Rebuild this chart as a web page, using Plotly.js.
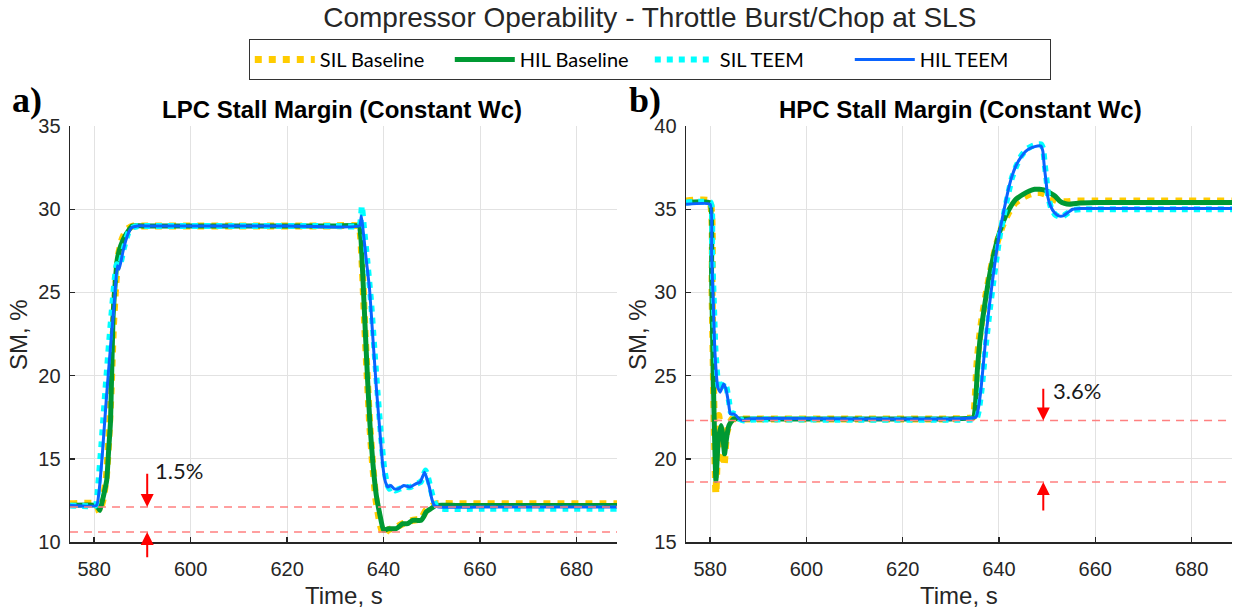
<!DOCTYPE html>
<html>
<head>
<meta charset="utf-8">
<script src="https://cdn.plot.ly/plotly-3.0.1.min.js"></script>
<style>html,body{margin:0;padding:0;background:#fff}#chart{width:1233px;height:609px}</style>
</head>
<body>
<div id="chart"></div>
<script>
// ---------- LPC (panel a) ----------
const lpcSilBaseT = [575, 580.5, 581.1, 581.8, 582.5, 583.0, 583.5, 584.0, 584.5, 585.0, 585.8, 586.8, 588.2, 590, 610, 630, 634.8, 635.2, 635.6, 636.1, 636.6, 637.1, 637.7, 638.4, 639.2, 640.0, 640.8, 642.6, 644.0, 646.0, 647.8, 648.8, 649.8, 650.8, 655, 670, 688.5];
const lpcSilBaseY = [12.3, 12.3, 11.8, 12.5, 13.8, 16.0, 19.0, 23.0, 25.5, 27.2, 28.2, 28.8, 29.0, 29.0, 29.0, 29.0, 29.0, 28.5, 26.5, 23.0, 20.0, 17.2, 14.8, 12.6, 11.2, 10.4, 10.7, 10.9, 11.1, 11.3, 11.4, 11.9, 12.1, 12.3, 12.3, 12.3, 12.3];

const lpcHilBaseT = [575, 580.5, 581.2, 581.8, 582.6, 583.0, 583.4, 583.9, 584.4, 584.8, 585.5, 586.4, 587.9, 590, 610, 630, 634.9, 635.3, 635.7, 636.2, 636.7, 637.2, 637.8, 638.5, 639.2, 640.0, 641.0, 642.6, 644.0, 645.0, 646.0, 647.0, 647.8, 648.3, 648.8, 649.8, 650.9, 655, 670, 688.5];
const lpcHilBaseY = [12.2, 12.2, 11.9, 12.6, 13.7, 15.5, 17.3, 23.4, 25.7, 27.0, 27.8, 28.4, 29.0, 29.0, 29.0, 29.0, 29.0, 28.3, 26.0, 22.8, 19.7, 17.0, 14.7, 12.8, 11.7, 10.7, 10.8, 10.8, 11.1, 11.1, 11.3, 11.3, 11.3, 11.5, 11.8, 12.0, 12.2, 12.2, 12.2, 12.2];

const lpcSilTeemT = [575, 580.3, 580.8, 581.5, 582.3, 583.1, 584.0, 584.7, 585.3, 586.1, 587.1, 588.0, 589.3, 590.5, 610, 630, 635.0, 635.5, 635.9, 636.6, 637.4, 638.1, 638.8, 639.5, 640.1, 640.7, 641.2, 641.8, 642.5, 643.3, 644.4, 645.6, 646.8, 647.7, 648.7, 649.2, 649.7, 650.3, 650.9, 652, 660, 688.5];
const lpcSilTeemY = [12.2, 12.2, 13.3, 15.8, 19.0, 22.0, 25.0, 26.7, 26.6, 27.6, 28.6, 28.9, 29.0, 29.0, 29.0, 29.0, 29.0, 30.2, 29.0, 27.0, 24.5, 21.6, 18.8, 16.3, 14.5, 13.5, 13.2, 13.3, 13.1, 13.2, 13.3, 13.3, 13.5, 13.6, 14.3, 13.9, 13.3, 12.6, 12.2, 12.0, 12.0, 12.0];

const lpcHilTeemT = [575, 580.5, 581.0, 581.7, 582.5, 583.3, 584.2, 584.8, 585.2, 586.0, 587.0, 587.8, 589.0, 590.5, 600, 620, 635.0, 635.4, 635.7, 636.4, 637.1, 637.8, 638.5, 639.2, 639.8, 640.4, 640.9, 641.5, 642.2, 643.1, 644.2, 645.5, 646.7, 647.6, 648.5, 649.0, 649.5, 650.0, 650.5, 651.5, 660, 688.5];
const lpcHilTeemY = [12.2, 12.2, 13.0, 15.3, 18.5, 21.4, 24.5, 26.6, 26.4, 27.5, 28.5, 28.9, 29.0, 29.0, 29.0, 29.0, 29.0, 29.6, 28.9, 27.0, 25.2, 22.2, 19.3, 16.8, 14.7, 13.6, 13.3, 13.4, 13.2, 13.2, 13.4, 13.3, 13.5, 13.6, 14.2, 13.8, 13.3, 12.6, 12.2, 12.1, 12.1, 12.1];

// ---------- HPC (panel b) ----------
const hpcSilBaseT = [575, 579.9, 580.4, 580.8, 581.2, 581.8, 582.3, 582.9, 583.4, 584.0, 584.6, 586, 610, 630, 634.6, 635.0, 635.4, 635.9, 636.5, 637.5, 638.6, 639.6, 640.7, 642.0, 643.4, 644.9, 646.3, 647.5, 648.5, 649.6, 650.6, 651.7, 652.7, 654, 656, 660, 688.5];
const hpcSilBaseY = [35.5, 35.5, 30.0, 23.0, 17.9, 22.6, 21.0, 19.6, 21.5, 22.1, 22.4, 22.4, 22.4, 22.4, 22.5, 23.4, 25.6, 27.2, 28.5, 30.2, 31.8, 33.0, 34.0, 34.8, 35.4, 35.7, 35.9, 36.0, 36.0, 35.9, 35.75, 35.55, 35.45, 35.45, 35.5, 35.5, 35.5];

const hpcHilBaseT = [575, 579.9, 580.3, 580.7, 581.2, 581.7, 582.3, 582.6, 583.0, 583.4, 583.8, 584.3, 584.9, 586, 610, 630, 634.7, 635.1, 635.5, 636.0, 636.6, 637.6, 638.7, 639.7, 640.8, 642.1, 643.5, 645.0, 646.3, 647.4, 648.4, 649.5, 650.5, 651.6, 652.6, 653.6, 654.6, 656, 660, 688.5];
const hpcHilBaseY = [35.4, 35.4, 31.2, 24.3, 18.7, 21.1, 22.0, 21.5, 20.3, 21.2, 21.9, 22.2, 22.4, 22.4, 22.4, 22.4, 22.5, 23.2, 25.3, 27.0, 28.4, 30.3, 32.0, 33.2, 34.2, 35.0, 35.6, 35.9, 36.1, 36.2, 36.2, 36.15, 36.0, 35.8, 35.5, 35.35, 35.3, 35.35, 35.4, 35.4];

const hpcSilTeemT = [575, 580.1, 580.4, 580.8, 581.1, 581.7, 582.2, 582.9, 583.4, 583.9, 584.3, 585.0, 585.5, 586.1, 587, 588, 610, 630, 635.3, 635.8, 636.4, 637.4, 638.1, 638.8, 639.5, 640.2, 641.1, 641.9, 642.7, 643.6, 644.6, 645.7, 646.9, 648.1, 648.8, 649.2, 649.5, 649.9, 650.2, 650.8, 651.6, 652.5, 653.4, 654.4, 655.4, 657, 660, 688.5];
const hpcSilTeemY = [35.4, 35.4, 32.6, 29.2, 26.6, 24.4, 24.1, 24.6, 24.3, 23.5, 22.8, 22.7, 22.6, 22.4, 22.3, 22.35, 22.35, 22.35, 22.4, 22.9, 24.2, 27.2, 29.0, 30.6, 32.1, 33.5, 34.8, 35.9, 36.9, 37.6, 38.2, 38.6, 38.8, 38.9, 38.9, 38.6, 37.7, 36.7, 35.8, 35.1, 34.7, 34.55, 34.6, 34.8, 34.95, 35.0, 35.0, 35.0];

const hpcHilTeemT = [575, 580.0, 580.3, 580.7, 581.0, 581.6, 582.1, 582.8, 583.3, 583.8, 584.2, 584.9, 585.4, 586.0, 586.9, 588, 610, 630, 635.2, 635.7, 636.3, 637.3, 638.0, 638.7, 639.4, 640.1, 641.0, 641.8, 642.6, 643.5, 644.5, 645.6, 646.8, 648.0, 648.7, 649.1, 649.4, 649.8, 650.1, 650.7, 651.5, 652.4, 653.3, 654.3, 655.3, 657, 660, 688.5];
const hpcHilTeemY = [35.3, 35.3, 32.4, 29.0, 26.4, 24.3, 24.0, 24.5, 24.2, 23.4, 22.7, 22.7, 22.6, 22.4, 22.3, 22.4, 22.4, 22.4, 22.5, 23.0, 24.3, 27.4, 29.2, 30.8, 32.3, 33.6, 34.9, 36.0, 36.9, 37.6, 38.1, 38.5, 38.7, 38.8, 38.8, 38.5, 37.6, 36.6, 35.8, 35.2, 34.8, 34.6, 34.6, 34.8, 35.0, 35.05, 35.05, 35.05];

// stall-margin reference levels and annotations
const lpcLimits = [12.1, 10.6];
const hpcLimits = [22.3, 18.6];
const lpcDeltaLabel = '1.5%';
const hpcDeltaLabel = '3.6%';
const lpcArrowT = 591;
const hpcArrowT = 649.2;

const seriesNames = ['SIL Baseline', 'HIL Baseline', 'SIL TEEM', 'HIL TEEM'];
const xTicks = [580, 600, 620, 640, 660, 680];
const lpcYTicks = [10, 15, 20, 25, 30, 35];
const hpcYTicks = [15, 20, 25, 30, 35, 40];

const styles = [
  {color: '#FFCC00', width: 7, dash: 'dot'},
  {color: '#009933', width: 5, dash: 'solid'},
  {color: '#00FFFF', width: 6, dash: 'dot'},
  {color: '#0A64FF', width: 3, dash: 'solid'}
];

const lpcData = [[lpcSilBaseT, lpcSilBaseY], [lpcHilBaseT, lpcHilBaseY], [lpcSilTeemT, lpcSilTeemY], [lpcHilTeemT, lpcHilTeemY]];
const hpcData = [[hpcSilBaseT, hpcSilBaseY], [hpcHilBaseT, hpcHilBaseY], [hpcSilTeemT, hpcSilTeemY], [hpcHilTeemT, hpcHilTeemY]];

const traces = [];
lpcData.forEach((d, i) => traces.push({
  x: d[0], y: d[1], type: 'scatter', mode: 'lines', name: seriesNames[i],
  line: Object.assign({shape: 'spline', smoothing: 0.4}, styles[i]), xaxis: 'x', yaxis: 'y', showlegend: true, legendgroup: 'g' + i
}));
hpcData.forEach((d, i) => traces.push({
  x: d[0], y: d[1], type: 'scatter', mode: 'lines', name: seriesNames[i],
  line: Object.assign({shape: 'spline', smoothing: 0.4}, styles[i]), xaxis: 'x2', yaxis: 'y2', showlegend: false, legendgroup: 'g' + i
}));

const axisFont = {family: 'Liberation Sans, Arial, sans-serif', size: 20, color: '#262626'};
function xAxis(domain, anchor) {
  return {domain: domain, anchor: anchor, range: [575, 688.4], tickvals: xTicks, ticktext: xTicks.map(String),
    ticks: 'inside', ticklen: 5, tickwidth: 1.5, tickcolor: '#262626', showline: true, linecolor: '#262626', linewidth: 1.5,
    showgrid: true, gridcolor: '#e2e2e2', gridwidth: 1, zeroline: false, tickfont: axisFont, ticklabelstandoff: 8, automargin: false, mirror: false};
}
function yAxis(range, ticks, anchor) {
  return {domain: [0.110, 0.793], anchor: anchor, range: range, tickvals: ticks, ticktext: ticks.map(String),
    ticks: 'inside', ticklen: 5, tickwidth: 1.5, tickcolor: '#262626', showline: true, linecolor: '#262626', linewidth: 1.5,
    showgrid: true, gridcolor: '#e2e2e2', gridwidth: 1, zeroline: false, tickfont: axisFont, ticklabelstandoff: 4, automargin: false, mirror: false};
}

const shapes = [];
lpcLimits.forEach(v => shapes.push({type: 'line', xref: 'x domain', yref: 'y', x0: 0, x1: 1, y0: v, y1: v, line: {color: '#FF8080', width: 1.5, dash: '8px,6px'}, layer: 'above'}));
hpcLimits.forEach(v => shapes.push({type: 'line', xref: 'x2 domain', yref: 'y2', x0: 0, x1: 1, y0: v, y1: v, line: {color: '#FF8080', width: 1.5, dash: '8px,6px'}, layer: 'above'}));

const txtFont = {family: 'Liberation Sans, Arial, sans-serif', size: 24, color: '#262626'};
const boldFont = {family: 'Liberation Sans, Arial, sans-serif', size: 24, color: '#000000', weight: 'bold'};
const labFont = {family: 'Liberation Serif, Times New Roman, serif', size: 36, color: '#000000', weight: 'bold'};
const pctFont = {family: 'Lato, Open Sans, sans-serif', size: 22, color: '#1a1a1a'};

function arrow(xr, yr, x, y, tail) {
  return {xref: xr, yref: yr, axref: xr, ayref: yr, x: x, y: y, ax: x, ay: tail, text: '', showarrow: true,
    arrowhead: 2, arrowsize: 1.3, arrowwidth: 2, arrowcolor: '#FF0000'};
}

const annotations = [
  {xref: 'paper', yref: 'paper', x: 0.2774, y: 0.821, text: 'LPC Stall Margin (Constant Wc)', showarrow: false, font: boldFont, xanchor: 'center', yanchor: 'middle'},
  {xref: 'paper', yref: 'paper', x: 0.7786, y: 0.821, text: 'HPC Stall Margin (Constant Wc)', showarrow: false, font: boldFont, xanchor: 'center', yanchor: 'middle'},
  {xref: 'paper', yref: 'paper', x: 27 / 1233, y: 1 - 100 / 609, text: 'a)', showarrow: false, font: labFont, xanchor: 'center', yanchor: 'middle'},
  {xref: 'paper', yref: 'paper', x: 645 / 1233, y: 1 - 100 / 609, text: 'b)', showarrow: false, font: labFont, xanchor: 'center', yanchor: 'middle'},
  {xref: 'paper', yref: 'paper', x: 18 / 1233, y: 1 - 335 / 609, text: 'SM, %', showarrow: false, font: txtFont, textangle: -90, xanchor: 'center', yanchor: 'middle'},
  {xref: 'paper', yref: 'paper', x: 637 / 1233, y: 1 - 335 / 609, text: 'SM, %', showarrow: false, font: txtFont, textangle: -90, xanchor: 'center', yanchor: 'middle'},
  {xref: 'x domain', yref: 'paper', x: 0.5, y: 1 - 595 / 609, text: 'Time, s', showarrow: false, font: txtFont, xanchor: 'center', yanchor: 'middle'},
  {xref: 'x2 domain', yref: 'paper', x: 0.5, y: 1 - 595 / 609, text: 'Time, s', showarrow: false, font: txtFont, xanchor: 'center', yanchor: 'middle'},
  arrow('x', 'y', lpcArrowT, lpcLimits[0], lpcLimits[0] + 2.1),
  arrow('x', 'y', lpcArrowT, lpcLimits[1], lpcLimits[1] - 1.6),
  arrow('x2', 'y2', hpcArrowT, hpcLimits[0], hpcLimits[0] + 2.0),
  arrow('x2', 'y2', hpcArrowT, hpcLimits[1], hpcLimits[1] - 1.8),
  {xref: 'x', yref: 'y', x: lpcArrowT + 1.2, y: lpcLimits[0] + 2.2, text: lpcDeltaLabel, showarrow: false, font: pctFont, xanchor: 'left', yanchor: 'middle'},
  {xref: 'x2', yref: 'y2', x: hpcArrowT + 1.6, y: hpcLimits[0] + 1.8, text: hpcDeltaLabel, showarrow: false, font: pctFont, xanchor: 'left', yanchor: 'middle'}
];

const layout = {
  width: 1233, height: 609,
  margin: {l: 0, r: 0, t: 0, b: 0},
  paper_bgcolor: '#ffffff', plot_bgcolor: '#ffffff',
  title: {text: 'Compressor Operability - Throttle Burst/Chop at SLS', x: 0.527, xanchor: 'center', y: 1 - 17 / 609, yanchor: 'middle',
    font: {family: 'Liberation Sans, Arial, sans-serif', size: 28, color: '#262626'}},
  showlegend: true,
  legend: {orientation: 'h', x: 0.527, xanchor: 'center', y: 1 - 39 / 609, yanchor: 'top', bordercolor: '#333333', borderwidth: 1,
    bgcolor: '#ffffff', font: {family: 'Lato, Open Sans, sans-serif', size: 20, color: '#000000'}, itemwidth: 60, entrywidth: 125, entrywidthmode: 'pixels', traceorder: 'normal'},
  xaxis: xAxis([0.0568, 0.5004], 'y'),
  yaxis: yAxis([10, 35], lpcYTicks, 'x'),
  xaxis2: xAxis([0.5564, 0.9992], 'y2'),
  yaxis2: yAxis([15, 40], hpcYTicks, 'x2'),
  shapes: shapes,
  annotations: annotations
};

Plotly.newPlot('chart', traces, layout, {displayModeBar: false, staticPlot: true});
</script>
</body>
</html>
